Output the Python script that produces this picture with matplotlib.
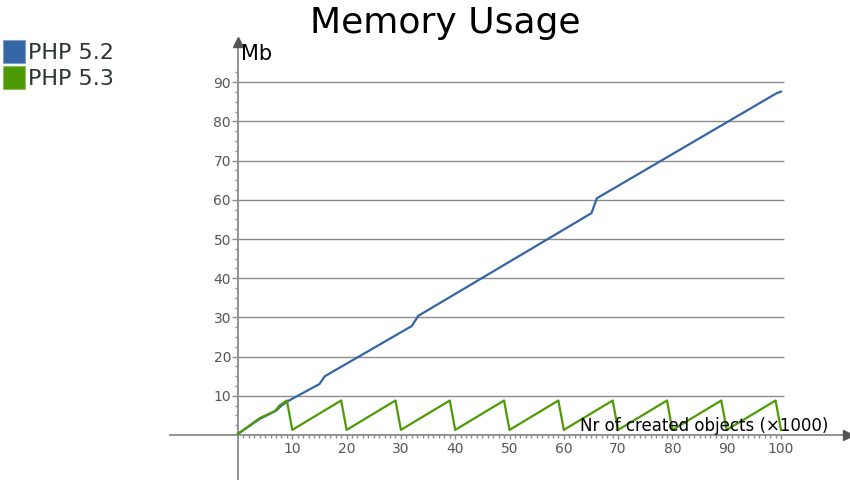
import matplotlib
matplotlib.use("Agg")
import matplotlib.pyplot as plt
from matplotlib.ticker import FixedLocator
from matplotlib.patches import Rectangle
import numpy as np

# ---- data ----
php52_x = [0, 4, 7, 8, 9, 15, 16, 32, 33.2, 65.1, 66.1, 99.2, 100]
php52_y = [0.3, 4.1, 6.2, 7.5, 8.5, 13.0, 15.0, 27.8, 30.4, 56.6, 60.4, 87.2, 87.6]

php53_x = [0, 4, 6.8, 7.7, 9, 10, 19, 20, 29, 30, 39, 40, 49, 50, 59, 60,
           69, 70, 79, 80, 89, 90, 99, 100]
php53_y = [0.3, 4.3, 6.1, 7.6, 8.8, 1.3, 8.8, 1.3, 8.8, 1.3, 8.8, 1.3, 8.8, 1.3,
           8.8, 1.3, 8.8, 1.3, 8.8, 1.3, 8.8, 1.3, 8.8, 1.3]

series_names = ["PHP 5.2", "PHP 5.3"]
grid_values = [10, 20, 30, 40, 50, 60, 70, 80, 90]
x_ticks = [10, 20, 30, 40, 50, 60, 70, 80, 90, 100]

BLUE = "#3465a4"
GREEN = "#4e9a06"
AXIS = "#8a8a8a"
TICKTXT = "#555753"
LEGTXT = "#2e3436"

fig = plt.figure(figsize=(8.5, 4.8), dpi=100)
ax = fig.add_axes([0, 0, 1, 1])
ax.set_facecolor("white")

# pixel mapping: x=0 -> 238px, 10 units = 54.3px ; y=0 -> 435px from top, 10 units = 39.2px
sx = 5.43
sy = 3.92
ax.set_xlim(-238 / sx, (850 - 238) / sx)
ax.set_ylim((435 - 480) / sy, 435 / sy)

for s in ["top", "right"]:
    ax.spines[s].set_visible(False)
ax.spines["left"].set_position(("data", 0))
ax.spines["bottom"].set_position(("data", 0))
ax.spines["left"].set_bounds((435 - 480) / sy, (435 - 44) / sy)
ax.spines["bottom"].set_bounds((170 - 238) / sx, (845 - 238) / sx)
for s in ["left", "bottom"]:
    ax.spines[s].set_color(AXIS)
    ax.spines[s].set_linewidth(1.3)

# arrow heads
ax.plot([(848 - 238) / sx], [0], marker=">", color="#555555", markersize=7,
        clip_on=False, zorder=5)
ax.plot([0], [(435 - 42) / sy], marker="^", color="#555555", markersize=7,
        clip_on=False, zorder=5)

ax.set_xticks(x_ticks)
ax.set_xticklabels([str(v) for v in x_ticks])
ax.xaxis.set_minor_locator(FixedLocator(np.arange(1, 101, 1)))
ax.set_yticks(grid_values)
ax.set_yticklabels([str(v) for v in grid_values])
ax.yaxis.set_minor_locator(FixedLocator(np.arange(2.5, 95, 2.5)))

ax.tick_params(axis="x", which="major", direction="out", length=3, width=1,
               color=AXIS, labelsize=10, labelcolor=TICKTXT, pad=2)
ax.tick_params(axis="x", which="minor", direction="out", length=2.5, width=1,
               color=AXIS)
ax.tick_params(axis="y", which="major", direction="out", length=4, width=1,
               color=AXIS, labelsize=10, labelcolor=TICKTXT, pad=1)
ax.tick_params(axis="y", which="minor", direction="out", length=2, width=1,
               color=AXIS)

# grid lines
ax.hlines(grid_values, 0, 100.6, colors="#8c8c8c", linewidth=1.0, zorder=1)

# series
ax.plot(php52_x, php52_y, color=BLUE, linewidth=1.6, zorder=3,
        solid_joinstyle="round")
ax.plot(php53_x, php53_y, color=GREEN, linewidth=1.6, zorder=4,
        solid_joinstyle="round")

# titles and axis labels
fig.text(445 / 850, 1 - 33 / 480, "Memory Usage", fontsize=26, ha="center",
         va="baseline", color="black")
fig.text(241 / 850, 1 - 60 / 480, "Mb", fontsize=15, ha="left",
         va="baseline", color="black")
fig.text(580 / 850, 1 - 431 / 480, "Nr of created objects (\u00d71000)",
         fontsize=12, ha="left", va="baseline", color="black", zorder=6)

# legend (manual)
colors = [BLUE, GREEN]
tops = [40, 66]
for name, col, top in zip(series_names, colors, tops):
    fig.patches.append(Rectangle((3 / 850, 1 - (top + 23) / 480), 22 / 850, 23 / 480,
                                 transform=fig.transFigure, facecolor=col,
                                 edgecolor="#7f9fc8" if col == BLUE else "#8fc060",
                                 linewidth=0.8))
    fig.text(28 / 850, 1 - (top + 19) / 480, name, fontsize=16, ha="left",
             va="baseline", color=LEGTXT)

fig.savefig("out.png", dpi=100, facecolor="white")
